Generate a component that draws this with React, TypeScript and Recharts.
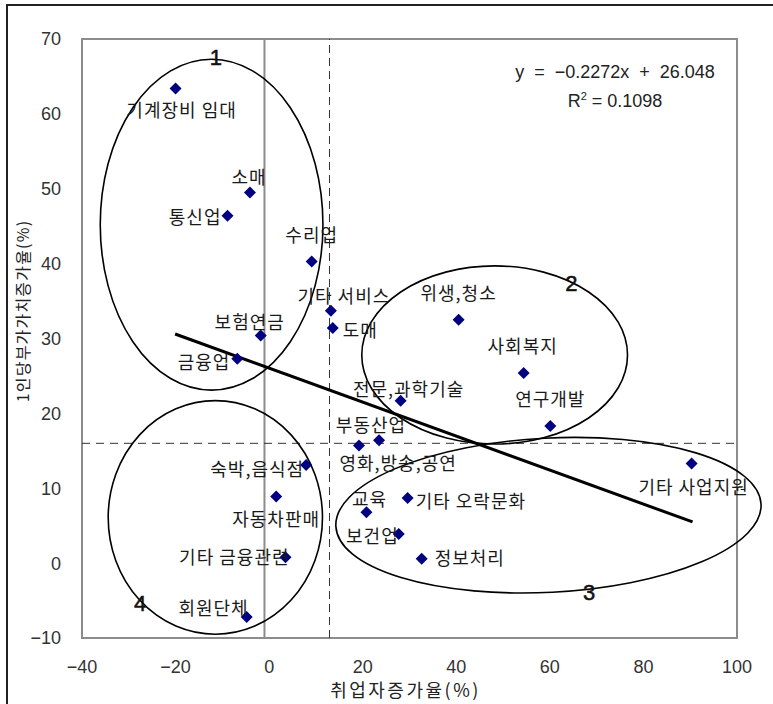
import {
  ScatterChart,
  Scatter,
  XAxis,
  YAxis,
  ReferenceLine,
  ReferenceDot,
  ReferenceArea,
  Label,
} from "recharts";

const industries = [
  "기계장비 임대", "소매", "통신업", "수리업", "기타 서비스", "도매", "보험연금", "금융업",
  "위생,청소", "사회복지", "전문,과학기술", "연구개발", "부동산업", "영화,방송,공연",
  "숙박,음식점", "자동차판매", "기타 금융관련", "회원단체", "교육", "기타 오락문화",
  "보건업", "정보처리", "기타 사업지원",
];
const employmentGrowth = [
  -20.0, -4.1, -8.9, 9.1, 13.2, 13.6, -1.8, -6.8,
  40.5, 54.4, 28.1, 60.1, 19.2, 23.5,
  7.9, 1.5, 3.5, -4.8, 20.8, 29.6,
  27.7, 32.6, 90.3,
];
const valueAddedGrowth = [
  63.4, 49.5, 46.4, 40.3, 33.7, 31.4, 30.4, 27.3,
  32.5, 25.4, 21.7, 18.3, 15.7, 16.4,
  13.1, 8.9, 0.8, -7.2, 6.8, 8.7,
  3.9, 0.6, 13.3,
];

const xTicks = [-40, -20, 0, 20, 40, 60, 80, 100];
const yTicks = [-10, 0, 10, 20, 30, 40, 50, 60, 70];

// 군집 (손으로 그린 타원)
const groupNames = ["1", "2", "3", "4"];
const groupCenterX = [-12.3, 48.2, 59.7, -11.5];
const groupCenterY = [45.2, 27.8, 6.4, 6.1];
const groupRadiusX = [23.8, 28.4, 45.5, 22.9];
const groupRadiusY = [22.1, 11.9, 10.3, 15.6];
const groupLabelX = [-11.4, 64.6, 68.4, -27.6];
const groupLabelY = [67.5, 37.4, -3.9, -5.4];

// 추세선
const trendX = [-20.1, 90.5];
const trendY = [30.6, 5.5];
const zeroLineX = -1;
const avgX = 12.9;
const avgY = 16.0;

const W = 773;
const H = 704;
const MARGIN = { top: 39, right: 36, bottom: 36, left: 32 };
const Y_AXIS_W = 50;
const X_AXIS_H = 30;
const PLOT_W = W - MARGIN.left - MARGIN.right - Y_AXIS_W;
const PLOT_H = H - MARGIN.top - MARGIN.bottom - X_AXIS_H;
const PX_X = PLOT_W / (xTicks[xTicks.length - 1] - xTicks[0]);
const PX_Y = PLOT_H / (yTicks[yTicks.length - 1] - yTicks[0]);

const KR = "'Noto Sans CJK KR', 'Noto Sans', sans-serif";
const NUM = "'Liberation Sans', Arial, sans-serif";

// 라벨 위치 [dx, dy, anchor]
const labelPos: Record<string, [number, number, string]> = {
  "기계장비 임대": [6, 21, "middle"],
  "소매": [-1, -16, "middle"],
  "통신업": [-6, 0, "end"],
  "수리업": [0, -27, "middle"],
  "기타 서비스": [13, -16, "middle"],
  "도매": [10, 1, "start"],
  "보험연금": [-11, -15, "middle"],
  "금융업": [-7, 2, "end"],
  "위생,청소": [0, -28, "middle"],
  "사회복지": [-1, -28, "middle"],
  "전문,과학기술": [8, -13, "middle"],
  "연구개발": [0, -28, "middle"],
  "부동산업": [12, -22, "middle"],
  "영화,방송,공연": [19, 22, "middle"],
  "숙박,음식점": [-2, 3, "end"],
  "자동차판매": [0, 22, "middle"],
  "기타 금융관련": [4, -1, "end"],
  "회원단체": [2, -10, "end"],
  "교육": [3, -14, "middle"],
  "기타 오락문화": [8, 2, "start"],
  "보건업": [0, 1, "end"],
  "정보처리": [13, -2, "start"],
  "기타 사업지원": [2, 22, "middle"],
};

const groupTilt = [0, 0, -3, 0];

const points = industries.map((name, i) => ({
  name,
  x: employmentGrowth[i],
  y: valueAddedGrowth[i],
}));

const minus = (v: number) => (v < 0 ? "\u2212" + Math.abs(v) : String(v));

function PointShape(props: any) {
  const { cx, cy, payload } = props;
  const s = 6;
  const [dx, dy, anchor] = labelPos[payload.name] || [8, 0, "start"];
  return (
    <g>
      <polygon
        points={`${cx},${cy - s} ${cx + s},${cy} ${cx},${cy + s} ${cx - s},${cy}`}
        fill="#000080"
      />
      <text
        x={cx + dx}
        y={cy + dy}
        textAnchor={anchor as any}
        dominantBaseline="central"
        fontFamily={KR}
        fontSize={18}
        letterSpacing={1}
        fill="#1a1a1a"
      >
        {payload.name}
      </text>
    </g>
  );
}

export default function App() {
  return (
    <div
      style={{
        position: "absolute",
        left: 0,
        top: 0,
        width: W,
        height: H,
        overflow: "hidden",
        background: "#fff",
      }}
    >
      <div
        style={{
          position: "absolute",
          left: 6,
          top: 4,
          width: 900,
          height: 900,
          border: "2px solid #222",
        }}
      />
      <div style={{ position: "absolute", left: 0, top: 0 }}>
        <ScatterChart width={W} height={H} margin={MARGIN}>
          <XAxis
            type="number"
            dataKey="x"
            domain={[xTicks[0], xTicks[xTicks.length - 1]]}
            ticks={xTicks}
            tickFormatter={minus}
            axisLine={false}
            tickLine={false}
            tickMargin={16}
            height={X_AXIS_H}
            tick={{ fill: "#333", fontSize: 18, fontFamily: NUM }}
          >
            <Label
              content={(p: any) => {
                const vb = p.viewBox;
                return (
                  <text
                    x={vb.x + vb.width / 2 - 4}
                    y={vb.y + 51}
                    textAnchor="middle"
                    dominantBaseline="central"
                    fontFamily={KR}
                    fontSize={18}
                    letterSpacing={2.5}
                    fill="#222"
                  >
                    취업자증가율(%)
                  </text>
                );
              }}
            />
          </XAxis>
          <YAxis
            type="number"
            dataKey="y"
            domain={[yTicks[0], yTicks[yTicks.length - 1]]}
            ticks={yTicks}
            tickFormatter={minus}
            axisLine={false}
            tickLine={false}
            tickMargin={15}
            width={Y_AXIS_W}
            tick={{ fill: "#333", fontSize: 18, fontFamily: NUM }}
          >
            <Label
              content={(p: any) => {
                const vb = p.viewBox;
                const x = vb.x - 10;
                const y = vb.y + 272;
                return (
                  <text
                    x={x}
                    y={y}
                    transform={`rotate(-90, ${x}, ${y})`}
                    textAnchor="middle"
                    dominantBaseline="central"
                    fontFamily={KR}
                    fontSize={16}
                    letterSpacing={1.2}
                    fill="#222"
                  >
                    1인당부가가치증가율(%)
                  </text>
                );
              }}
            />
          </YAxis>

          <ReferenceArea
            x1={xTicks[0]}
            x2={xTicks[xTicks.length - 1]}
            y1={yTicks[0]}
            y2={yTicks[yTicks.length - 1]}
            fill="none"
            fillOpacity={0}
            stroke="#8c8c8c"
            strokeWidth={2}
          />
          <ReferenceLine x={zeroLineX} stroke="#8c8c8c" strokeWidth={2} />
          <ReferenceLine x={avgX} stroke="#333" strokeDasharray="8 5" />
          <ReferenceLine y={avgY} stroke="#333" strokeDasharray="8 6" />

          {groupNames.map((g, i) => (
            <ReferenceDot
              key={"e" + g}
              x={groupCenterX[i]}
              y={groupCenterY[i]}
              r={1}
              ifOverflow="visible"
              shape={(p: any) => (
                <ellipse
                  cx={p.cx}
                  cy={p.cy}
                  rx={groupRadiusX[i] * PX_X}
                  ry={groupRadiusY[i] * PX_Y}
                  transform={`rotate(${groupTilt[i]}, ${p.cx}, ${p.cy})`}
                  fill="none"
                  stroke="#000"
                  strokeWidth={1.6}
                />
              )}
            />
          ))}
          {groupNames.map((g, i) => (
            <ReferenceDot
              key={"l" + g}
              x={groupLabelX[i]}
              y={groupLabelY[i]}
              r={1}
              ifOverflow="visible"
              shape={(p: any) => (
                <text
                  x={p.cx}
                  y={p.cy}
                  textAnchor="middle"
                  dominantBaseline="central"
                  fontFamily={NUM}
                  fontSize={22}
                  stroke="#111"
                  strokeWidth={0.5}
                  fill="#111"
                >
                  {g}
                </text>
              )}
            />
          ))}

          <ReferenceLine
            segment={[
              { x: trendX[0], y: trendY[0] },
              { x: trendX[1], y: trendY[1] },
            ]}
            stroke="#000"
            strokeWidth={3}
          />

          <Scatter data={points} shape={PointShape} isAnimationActive={false} />
        </ScatterChart>
      </div>
      <div
        style={{
          position: "absolute",
          left: 465,
          top: 61,
          width: 300,
          textAlign: "center",
          fontFamily: NUM,
          fontSize: 18,
          lineHeight: "22px",
          color: "#222",
          whiteSpace: "pre",
        }}
      >
        {"y  =  \u22120.2272x  +  26.048"}
      </div>
      <div
        style={{
          position: "absolute",
          left: 465,
          top: 90,
          width: 300,
          textAlign: "center",
          fontFamily: NUM,
          fontSize: 18,
          lineHeight: "22px",
          color: "#222",
          whiteSpace: "pre",
        }}
      >
        R<sup style={{ fontSize: 11, verticalAlign: "7px", lineHeight: 0 }}>2</sup>
        {" = 0.1098"}
      </div>
    </div>
  );
}
